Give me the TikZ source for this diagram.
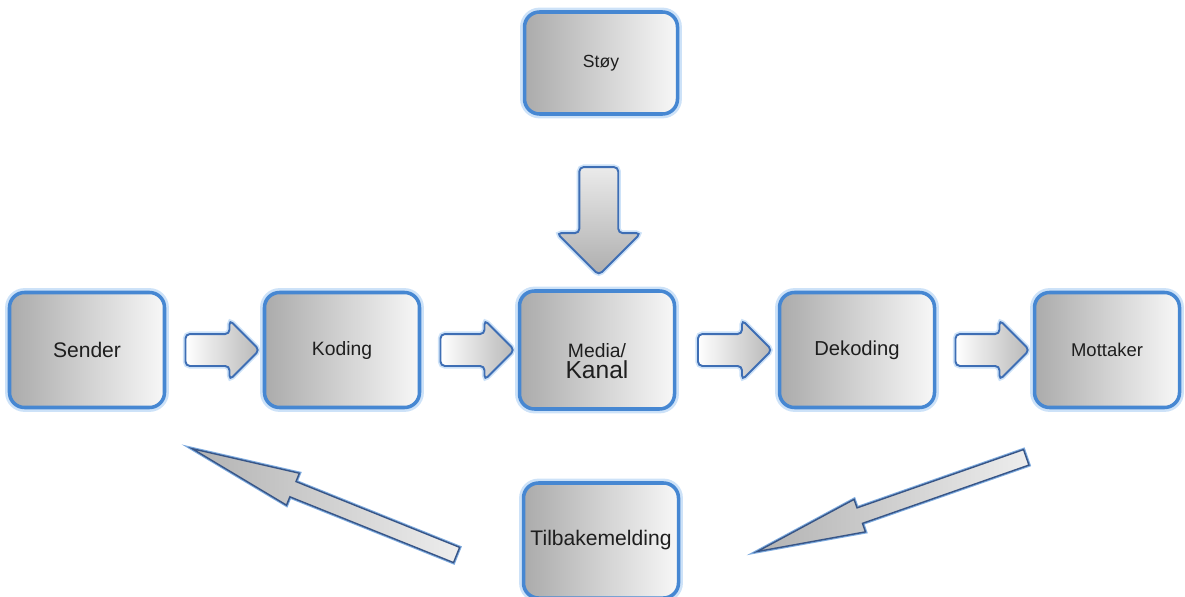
\documentclass[tikz,border=0pt]{standalone}
\usepackage{fontspec}
\setmainfont{Liberation Sans}
\usetikzlibrary{positioning,shapes.arrows,calc}
\definecolor{boxblue}{RGB}{70,135,210}
\definecolor{glowblue}{RGB}{205,226,248}
\definecolor{arrowline}{RGB}{62,110,180}
\definecolor{darkline}{RGB}{55,85,135}
\definecolor{textgray}{RGB}{30,30,30}

\begin{document}
\begin{tikzpicture}[node distance=2cm,
  every node/.style={font=\fontsize{11}{12}\selectfont,text=textgray},
  stage/.style={rectangle,rounded corners=0.3cm,draw=boxblue,line width=2pt,
    left color=black!33,right color=white!97!black,outer sep=0pt,
    minimum width=3.1cm,minimum height=2.3cm,align=center,
    preaction={draw=glowblue,line width=5pt}},
  flow/.style={single arrow,draw=arrowline,line width=1.1pt,rounded corners=2.5pt,
    left color=white,right color=black!28,inner xsep=0pt,inner ysep=0.3cm,
    single arrow head extend=0.28cm,minimum height=1.48cm,minimum width=0pt,
    preaction={draw=glowblue,line width=3pt}},
  noise/.style={flow,rotate=-90,inner ysep=0.37cm,top color=black!8,bottom color=black!32,
    single arrow head extend=0.45cm,minimum height=2.16cm},
  feedback/.style={single arrow,draw=darkline,line width=0.8pt,
    left color=black!30,right color=black!7,inner xsep=0pt,inner ysep=0.15cm,
    single arrow head extend=0.18cm,single arrow tip angle=18,
    minimum height=5.7cm,minimum width=0pt,anchor=tip,
    preaction={draw=boxblue!70,line width=2pt}}]
  \useasboundingbox (0,0) rectangle (23.7,-11.92);
  \node[stage,font=\fontsize{12}{14}\selectfont] (sender) at (1.74,-7) {Sender};
  \node[stage,right=of sender] (koding) {Koding};
  \node[stage,right=of koding,minimum height=2.36cm] (media)
    {\rule{0pt}{0.74cm}Media/\\{\fontsize{14}{16}\selectfont Kanal}};
  \node[stage,right=2.1cm of media,font=\fontsize{11.5}{13}\selectfont] (dekoding) {Dekoding};
  \node[stage,right=of dekoding,minimum width=2.9cm,
    font=\fontsize{10.5}{12}\selectfont] (mottaker) {Mottaker};
  \node[stage,above=3.54cm of media,xshift=0.08cm,minimum width=3.06cm,
    minimum height=2.04cm,font=\fontsize{10}{12}\selectfont] (stoy) {Støy};
  \node[stage,below=1.48cm of media,xshift=0.08cm,
    font=\fontsize{12}{14}\selectfont] (tilbake) {Tilbakemelding};
  \node[flow] (a1) at ($(sender.east)!0.5!(koding.west)$) {};
  \node[flow] (a2) at ($(koding.east)!0.5!(media.west)$) {};
  \node[flow] (a3) at ($(media.east)!0.5!(dekoding.west)$) {};
  \node[flow] (a4) at ($(dekoding.east)!0.5!(mottaker.west)$) {};
  \node[noise] (a5) at ($(stoy.south)!0.55!(media.north)$) {};
  \node[feedback,rotate=158.1] (fb1) at (3.76,-8.94) {};
  \node[feedback,rotate=199.3] (fb2) at (15.06,-11.06) {};
\end{tikzpicture}
\end{document}
